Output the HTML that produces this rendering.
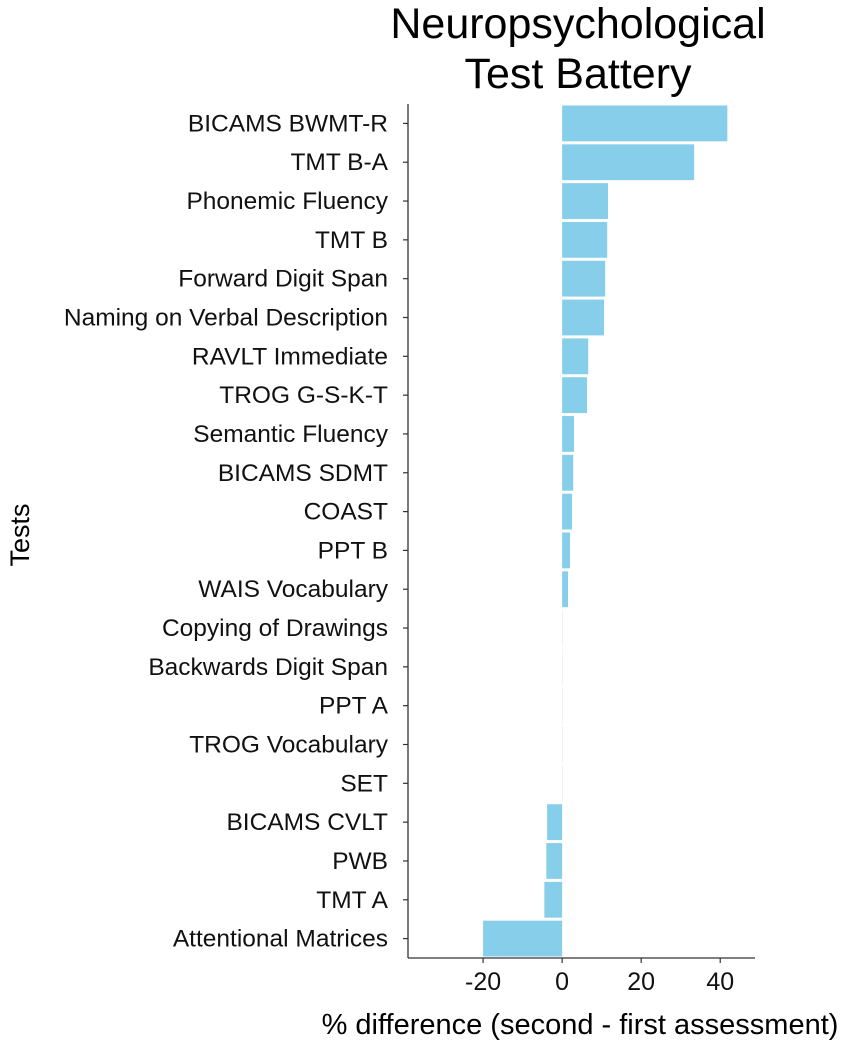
<!DOCTYPE html>
<html><head><meta charset="utf-8"><style>
body{margin:0;background:#fff;}
svg text{font-family:"Liberation Sans",Arial,sans-serif;}
</style></head><body>
<svg width="851" height="1046">
<text x="578" y="38" font-size="43" text-anchor="middle">Neuropsychological</text>
<text x="578" y="88" font-size="43" text-anchor="middle">Test Battery</text>
<text transform="translate(29,535) rotate(-90)" font-size="27" text-anchor="middle">Tests</text>
<text x="580" y="1034" font-size="29" text-anchor="middle">% difference (second - first assessment)</text>
<g id="plot"></g>
</svg>
<script>
const categories=["BICAMS BWMT-R","TMT B-A","Phonemic Fluency","TMT B","Forward Digit Span","Naming on Verbal Description","RAVLT Immediate","TROG G-S-K-T","Semantic Fluency","BICAMS SDMT","COAST","PPT B","WAIS Vocabulary","Copying of Drawings","Backwards Digit Span","PPT A","TROG Vocabulary","SET","BICAMS CVLT","PWB","TMT A","Attentional Matrices"];
const values=[41.8,33.4,11.6,11.4,10.9,10.6,6.6,6.3,3.0,2.8,2.5,2.0,1.5,0,0,0,0,0,-3.8,-4.0,-4.5,-20];
const xTicks=[-20,0,20,40];
const xMin=-39,xMax=48.8;
const L=408,R=755,T=104,B=958;
const sx=v=>L+(v-xMin)/(xMax-xMin)*(R-L);
const rowH=(B-T)/categories.length;
const sy=i=>T+rowH*i+rowH/2;
const ns="http://www.w3.org/2000/svg";
const g=document.getElementById('plot');
function mk(t,a){const e=document.createElementNS(ns,t);for(const k in a)e.setAttribute(k,a[k]);g.appendChild(e);return e;}
categories.forEach((c,i)=>{
  const v=values[i];const x0=sx(0),x1=sx(v);
  const y=sy(i);
  const r=mk('rect',{x:Math.min(x0,x1),y:y-rowH/2+1.5,width:Math.max(Math.abs(x1-x0),0.8),height:rowH-3,fill:v===0?'#e4f3fa':'#87CEEB'});
  
  
  const tk=mk('line',{x1:L-5,x2:L,y1:y,y2:y,stroke:'#333','stroke-width':1.2});
  
  
  const t=mk('text',{x:L-20,y:y+8,'font-size':24.5,'text-anchor':'end',fill:'#111'});
  t.textContent=c;
  
  
});
xTicks.forEach(v=>{
  const x=sx(v);
  const tk=mk('line',{x1:x,x2:x,y1:B,y2:B+5,stroke:'#333','stroke-width':1.2});
  
  
  const t=mk('text',{x:x,y:B+32,'font-size':25,'text-anchor':'middle',fill:'#111'});
  t.textContent=v;
  
  
});
const ya=mk('line',{x1:L,x2:L,y1:T,y2:B,stroke:'#333','stroke-width':1.3});


const xa=mk('line',{x1:L,x2:R,y1:B,y2:B,stroke:'#333','stroke-width':1.3});


</script>
</body></html>
